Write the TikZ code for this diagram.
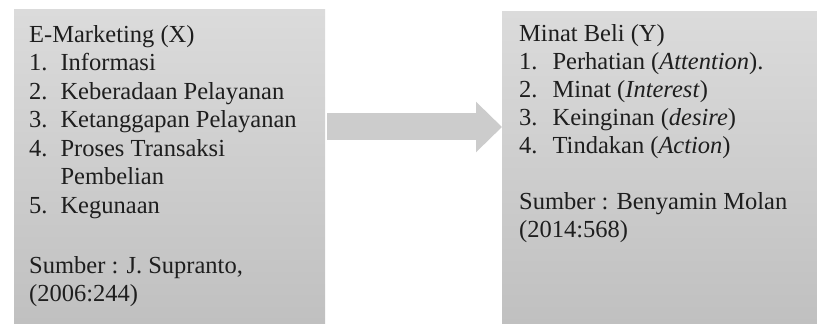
\documentclass[tikz,border=0pt]{standalone}
\usepackage{fontspec}
\setmainfont{Liberation Serif}
\usetikzlibrary{arrows.meta,calc}
\definecolor{boxtop}{RGB}{219,219,219}
\definecolor{boxbottom}{RGB}{192,192,192}
\definecolor{arrowgray}{RGB}{204,204,204}
\definecolor{inkgray}{RGB}{30,30,30}
\begin{document}
\begin{tikzpicture}[x=1pt, y=1pt,
	panel/.style={draw=none, top color=boxtop, bottom color=boxbottom, inner sep=0pt, anchor=south west},
	listtext/.style={anchor=north west, inner sep=0pt, text=inkgray, font=\fontsize{24.5}{28.5}\selectfont},
	blockarrow/.style={draw=arrowgray, line width=27pt, -{Triangle[width=49pt, length=26pt]}}]
		% Page frame with the reference proportions
		\useasboundingbox (0,0) rectangle (817,324);
		
		% Shaded boxes, both running off the bottom edge
		\node[panel, minimum width=311pt, minimum height=314pt] (xbox) at (14,0) {};
		\node[panel, minimum width=315pt, minimum height=312pt] (ybox) at (502,0) {};
		
		% Text of the left box
		\node[listtext] (xtext) at (29,302) {%
			\begin{tabular}{@{}l@{\hspace{13pt}}l@{}}
				\multicolumn{2}{@{}l@{}}{E-Marketing (X)}\\
				1. & Informasi\\
				2. & Keberadaan Pelayanan\\
				3. & Ketanggapan Pelayanan\\
				4. & Proses Transaksi\\
				   & Pembelian\\
				5. & Kegunaan\\[3pt]
				\\
				\multicolumn{2}{@{}l@{}}{Sumber : J. Supranto,}\\
				\multicolumn{2}{@{}l@{}}{(2006:244)}
			\end{tabular}};
		
		% Text of the right box (a little tighter)
		\node[listtext, font=\fontsize{24.5}{28}\selectfont] (ytext) at (519,302) {%
			\begin{tabular}{@{}l@{\hspace{15pt}}l@{}}
				\multicolumn{2}{@{}l@{}}{Minat Beli (Y)}\\
				1. & Perhatian (\textit{Attention}).\\
				2. & Minat (\textit{Interest})\\
				3. & Keinginan (\textit{desire})\\
				4. & Tindakan (\textit{Action})\\
				\\
				\multicolumn{2}{@{}l@{}}{Sumber : Benyamin Molan}\\
				\multicolumn{2}{@{}l@{}}{(2014:568)}
			\end{tabular}};
		
		% Block arrow from X to Y
		\coordinate (tail) at ($(xbox.south east)+(2,197)$);
		\draw[blockarrow] (tail) -- (ybox.west |- tail);
	\end{tikzpicture}
\end{document}
